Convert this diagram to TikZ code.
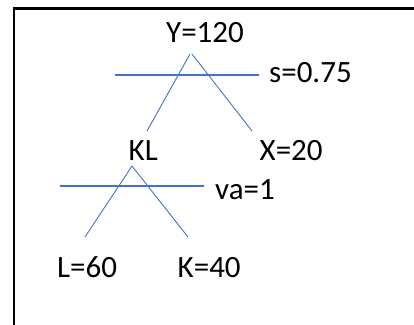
\documentclass[tikz,border=0pt]{standalone}
\usepackage{fontspec}
\setmainfont{Carlito}
\definecolor{lineblue}{HTML}{4472C4}
\begin{document}
\begin{tikzpicture}[x=1pt,y=-1pt,
  lbl/.style={anchor=base west,inner sep=0pt,font=\fontsize{31}{37}\selectfont},
  branch/.style={draw=lineblue,line width=0.9pt},
  bar/.style={draw=lineblue,line width=1.6pt},
  frame/.style={draw=black,line width=2.6pt}]
\useasboundingbox (0,0) rectangle (414,324);
% frame (only top and left edges visible)
\coordinate (fr1) at (14,330);
\coordinate (fr2) at (14,8.7);
\coordinate (fr3) at (420,8.7);
\draw[frame] (fr1) -- (fr2) -- (fr3);
% texts
\node[lbl] (Y) at (166,42) {Y=120};
\node[lbl] (s) at (269,82) {s=0.75};
\node[lbl] (KL) at (128.5,160) {KL};
\node[lbl] (X) at (259.5,160) {X=20};
\node[lbl] (va) at (215,199) {va=1};
\node[lbl] (L) at (57,277.5) {L=60};
\node[lbl] (K) at (177.5,277.5) {K=40};
% upper tree
\coordinate (topL) at (190,54);
\coordinate (topR) at (192,54);
\coordinate (klEnd) at (147,131);
\coordinate (xEnd) at (252,131);
\draw[branch] (topL) -- (klEnd);
\draw[branch] (topR) -- (xEnd);
\coordinate (bar1a) at (115,75);
\coordinate (bar1b) at (259,75);
\draw[bar] (bar1a) -- (bar1b);
% lower tree
\coordinate (kltop) at (132,166);
\coordinate (lEnd) at (85,237);
\coordinate (kEnd) at (188,237);
\draw[branch] (kltop) -- (lEnd);
\draw[branch] (kltop) -- (kEnd);
\coordinate (bar2a) at (60,186);
\coordinate (bar2b) at (204,186);
\draw[bar] (bar2a) -- (bar2b);
\end{tikzpicture}
\end{document}
